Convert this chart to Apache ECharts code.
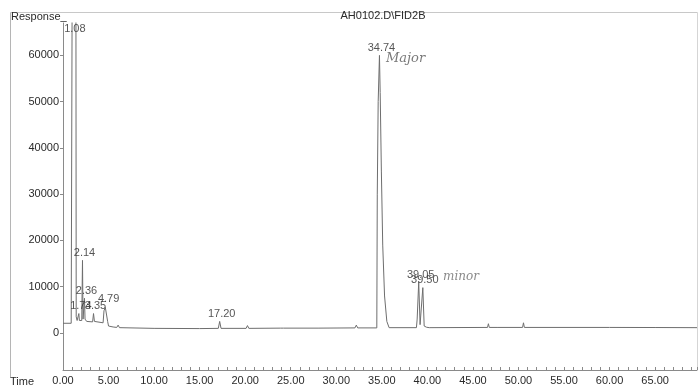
<!DOCTYPE html>
<html>
<head>
<meta charset="utf-8">
<script src="https://cdn.jsdelivr.net/npm/echarts@6/dist/echarts.min.js"></script>
<style>
html,body{margin:0;padding:0;background:#fff;}
#chart{width:698px;height:387px;}
</style>
</head>
<body>
<div id="chart"></div>
<script>
// Chromatogram trace (retention time in minutes, detector response)
const times = [
  0.00, 0.90, 0.97, 1.00, 1.08, 1.42, 1.45, 1.55, 1.68, 1.74, 1.80,
  2.06, 2.14, 2.20, 2.30, 2.36, 2.42, 2.60, 3.25, 3.35, 3.45, 3.60,
  4.40, 4.50, 4.65, 4.79, 4.90, 5.00, 5.50, 5.90, 6.05, 6.20,
  10.00, 15.00, 17.05, 17.20, 17.35, 20.10, 20.25, 20.40,
  23.90, 24.05, 24.20, 28.00, 32.05, 32.20, 32.35,
  34.45, 34.50, 34.60, 34.74, 34.82, 34.95, 35.10, 35.30, 35.55, 35.80,
  38.80, 38.88, 39.05, 39.20, 39.35, 39.50, 39.65, 39.90, 40.20,
  46.60, 46.70, 46.80, 47.75, 47.85, 47.95, 50.45, 50.55, 50.65,
  55.00, 60.00, 65.00, 69.60
];
const response = [
  2100, 2100, 2300, 70000, 80000, 70000, 3500, 2700, 2600, 4200, 2700,
  2700, 15700, 3000, 2900, 7500, 3000, 2500, 2400, 4200, 2500, 2300,
  2200, 4800, 5500, 5700, 2500, 1500, 1300, 1200, 1700, 1150,
  1000, 950, 1000, 2500, 1000, 1000, 1600, 1000,
  1050, 1300, 1050, 1050, 1100, 1700, 1100,
  1100, 30000, 50000, 60000, 52000, 35000, 19000, 8000, 2500, 1150,
  1150, 3000, 11000, 1800, 2000, 9800, 1500, 1250, 1150,
  1200, 2000, 1200, 1200, 1500, 1200, 1200, 2200, 1200,
  1200, 1200, 1180, 1150
];
// Integrated peaks
const peakTimes   = [1.08, 1.74, 2.14, 2.36, 3.35, 4.79, 17.20, 34.74, 39.05, 39.50];
const peakHeights = [80000, 4200, 15700, 7500, 4200, 5700, 2500, 60000, 11000, 9800];
const peakLabels  = ['1.08', '1.74', '2.14', '2.36', '3.35', '4.79', '17.20', '34.74', '39.05', '39.50'];
// Axis tick labels
const timeTickValues = [0, 5, 10, 15, 20, 25, 30, 35, 40, 45, 50, 55, 60, 65];
const responseTickValues = [0, 10000, 20000, 30000, 40000, 50000, 60000];
const fileName = 'AH0102.D\\FID2B';

const Y_MIN = -8000, Y_MAX = 67000, X_MIN = 0, X_MAX = 69.6;
const FONT = '"Liberation Sans", Arial, sans-serif';
const TXT = '#2a2a2a';
const AX = '#8a8a8a';

const trace = times.map((t, i) => [t, response[i]]);
const labelCap = 64000;
const peakPts = peakTimes.map((t, i) => ({
  value: [t, Math.min(peakHeights[i], labelCap)],
  name: peakLabels[i]
}));

const chart = echarts.init(document.getElementById('chart'), null, {renderer: 'canvas'});
chart.setOption({
  animation: false,
  backgroundColor: '#ffffff',
  grid: {left: 63, right: 1, top: 23, bottom: 17, containLabel: false},
  xAxis: {
    type: 'value', min: X_MIN, max: X_MAX, interval: 1,
    axisLine: {show: true, onZero: false, lineStyle: {color: AX, width: 1}},
    axisTick: {show: true, inside: true, length: 3, lineStyle: {color: AX}},
    splitLine: {show: false},
    axisLabel: {
      show: true, margin: 5, fontSize: 11, fontFamily: FONT, color: TXT,
      customValues: timeTickValues,
      formatter: v => Number(v).toFixed(2)
    }
  },
  yAxis: {
    type: 'value', min: Y_MIN, max: Y_MAX,
    axisLine: {show: true, onZero: false, lineStyle: {color: AX, width: 1}},
    axisTick: {show: true, inside: false, length: 3, lineStyle: {color: AX}, customValues: responseTickValues},
    splitLine: {show: false},
    axisLabel: {
      show: true, margin: 4, fontSize: 11, fontFamily: FONT, color: TXT,
      customValues: responseTickValues,
      formatter: v => String(v)
    }
  },
  series: [
    {
      type: 'line',
      data: trace,
      symbol: 'none',
      clip: true,
      lineStyle: {color: '#6e6e6e', width: 1},
      z: 2
    },
    {
      type: 'scatter',
      data: peakPts,
      symbolSize: 0,
      clip: false,
      label: {
        show: true, position: 'top', distance: 2, offset: [2, 0],
        formatter: p => p.name,
        fontSize: 11, fontFamily: FONT, color: TXT
      },
      z: 3
    }
  ],
  graphic: [
    // outer frame
    {type: 'line', shape: {x1: 10.5, y1: 12.5, x2: 697.5, y2: 12.5}, style: {stroke: '#c8c8c8', lineWidth: 1}},
    {type: 'line', shape: {x1: 10.5, y1: 12.5, x2: 10.5, y2: 377}, style: {stroke: '#b5b5b5', lineWidth: 1}},
    {type: 'line', shape: {x1: 697.5, y1: 12.5, x2: 697.5, y2: 370}, style: {stroke: '#d5d5d5', lineWidth: 1}},
    {type: 'text', left: 11, top: 11, style: {text: 'Response_', fontSize: 11, fontFamily: FONT, fill: TXT}},
    {type: 'text', left: 10, top: 376, style: {text: 'Time', fontSize: 11, fontFamily: FONT, fill: TXT}},
    {type: 'text', x: 383, y: 16, style: {text: fileName, fontSize: 11, fontFamily: FONT, fill: TXT, align: 'center', verticalAlign: 'middle'}},
    // handwritten notes
    {type: 'text', x: 386, y: 59, style: {text: 'Major', fontSize: 13, fontStyle: 'italic', fontFamily: '"DejaVu Serif", serif', fill: '#7a7a7a', verticalAlign: 'middle'}},
    {type: 'text', x: 443, y: 277, style: {text: 'minor', fontSize: 12, fontStyle: 'italic', fontFamily: '"DejaVu Serif", serif', fill: '#8a8a8a', verticalAlign: 'middle'}}
  ]
});
</script>
</body>
</html>
